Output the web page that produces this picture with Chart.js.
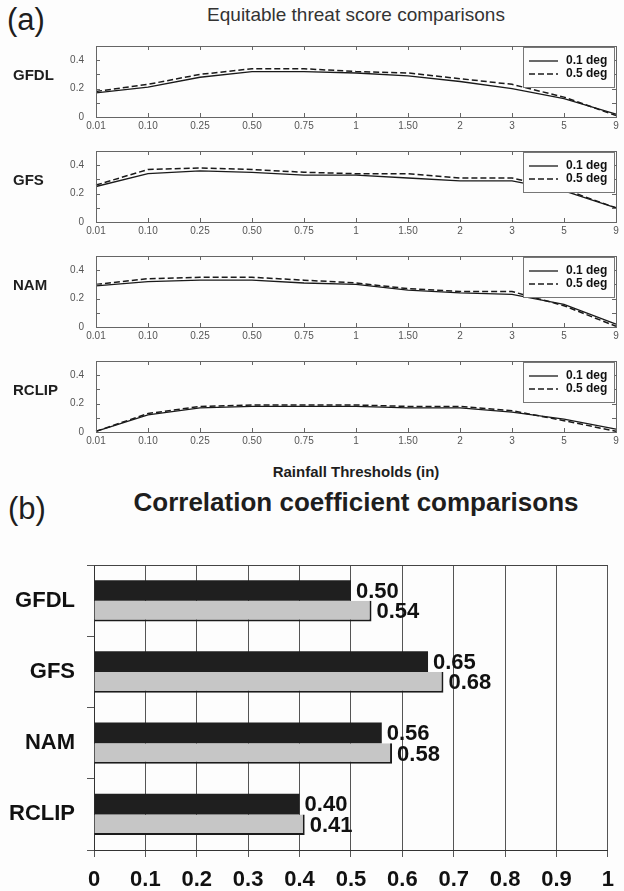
<!DOCTYPE html>
<html>
<head>
<meta charset="utf-8">
<script src="https://cdn.jsdelivr.net/npm/chart.js@4.4.0/dist/chart.umd.min.js"></script>
<style>
  body { margin: 0; background: #fdfdfd; font-family: "Liberation Sans", Arial, sans-serif; }
  #page { position: relative; width: 624px; height: 891px; overflow: hidden; }
  .txt { position: absolute; white-space: nowrap; color: #1e1e1e; line-height: 1; }
  .center { transform: translateX(-50%); }
  .rowlab { font-weight: bold; font-size: 15px; transform: translateY(-50%); }
  canvas { position: absolute; left: 0; }
</style>
</head>
<body>
<div id="page">
  <div class="txt" style="left:7px; top:4px; font-size:31px;">(a)</div>
  <div class="txt center" style="left:356px; top:5px; font-size:19px; color:#333;">Equitable threat score comparisons</div>
  <div class="txt center" style="left:356px; top:464px; font-size:15px; font-weight:bold;">Rainfall Thresholds (in)</div>
  <div class="txt" style="left:8px; top:493px; font-size:31px;">(b)</div>
  <div class="txt center" style="left:356px; top:489px; font-size:26px; font-weight:bold;">Correlation coefficient comparisons</div>
</div>
<script>
// rainfall thresholds (in) on the x axis of panel (a)
const thresholds = ['0.01', '0.10', '0.25', '0.50', '0.75', '1', '1.50', '2', '3', '5', '9'];
const models = ['GFDL', 'GFS', 'NAM', 'RCLIP'];
const seriesNames = ['0.1 deg', '0.5 deg'];

// equitable threat scores, 0.1 deg (solid) and 0.5 deg (dashed)
const gfdlFine   = [0.17, 0.21, 0.28, 0.32, 0.32, 0.31, 0.29, 0.25, 0.20, 0.13, 0.02];
const gfdlCoarse = [0.18, 0.23, 0.30, 0.34, 0.34, 0.32, 0.31, 0.27, 0.23, 0.14, 0.01];
const gfsFine    = [0.25, 0.34, 0.36, 0.35, 0.33, 0.33, 0.31, 0.29, 0.29, 0.22, 0.10];
const gfsCoarse  = [0.26, 0.37, 0.38, 0.37, 0.35, 0.34, 0.34, 0.31, 0.31, 0.23, 0.10];
const namFine    = [0.29, 0.32, 0.33, 0.33, 0.31, 0.30, 0.26, 0.24, 0.23, 0.16, 0.02];
const namCoarse  = [0.30, 0.34, 0.35, 0.35, 0.33, 0.31, 0.27, 0.25, 0.25, 0.15, 0.005];
const rclipFine  = [0.005, 0.12, 0.17, 0.18, 0.18, 0.18, 0.17, 0.17, 0.14, 0.09, 0.02];
const rclipCoarse= [0.005, 0.13, 0.18, 0.19, 0.19, 0.19, 0.18, 0.18, 0.15, 0.08, 0.005];

const etsLabelled = [0, 0.2, 0.4];

// correlation coefficients, panel (b)
const corrFine   = [0.50, 0.65, 0.56, 0.40];
const corrCoarse = [0.54, 0.68, 0.58, 0.41];

const fineSets = [gfdlFine, gfsFine, namFine, rclipFine];
const coarseSets = [gfdlCoarse, gfsCoarse, namCoarse, rclipCoarse];
const plotTops = [36, 141, 246, 351];

Chart.defaults.font.family = '"Liberation Sans", Arial, sans-serif';
Chart.defaults.animation = false;

const page = document.getElementById('page');

// box round the plot with small inward ticks (matlab look)
const frameTicks = {
  id: 'frameTicks',
  afterDatasetsDraw(chart) {
    const ctx = chart.ctx, a = chart.chartArea;
    const sx = chart.scales.x, sy = chart.scales.y;
    ctx.save();
    ctx.strokeStyle = '#666';
    ctx.lineWidth = 1;
    ctx.strokeRect(Math.round(a.left) + 0.5, Math.round(a.top) + 0.5,
                   Math.round(a.right - a.left), Math.round(a.bottom - a.top));
    ctx.beginPath();
    thresholds.forEach((t, i) => {
      const x = Math.round(sx.getPixelForValue(i)) + 0.5;
      ctx.moveTo(x, a.bottom); ctx.lineTo(x, a.bottom - 4);
      ctx.moveTo(x, a.top); ctx.lineTo(x, a.top + 4);
    });
    for (let k = 0; k <= 5; k++) {
      const y = Math.round(sy.getPixelForValue(k / 10)) + 0.5;
      ctx.moveTo(a.left, y); ctx.lineTo(a.left + 4, y);
      ctx.moveTo(a.right, y); ctx.lineTo(a.right - 4, y);
    }
    ctx.stroke();
    ctx.restore();
  }
};

const legendBox = {
  id: 'legendBox',
  afterDraw(chart) {
    const ctx = chart.ctx, a = chart.chartArea;
    const w = 91, h = 40;
    const x = Math.round(a.right) - w - 2, y = Math.round(a.top) + 1;
    ctx.save();
    ctx.fillStyle = '#fdfdfd';
    ctx.fillRect(x, y, w, h);
    ctx.strokeStyle = '#777';
    ctx.lineWidth = 1;
    ctx.strokeRect(x + 0.5, y + 0.5, w, h);
    chart.data.datasets.forEach((ds, i) => {
      const ly = y + 14 + i * 13;
      ctx.beginPath();
      ctx.setLineDash(ds.borderDash || []);
      ctx.strokeStyle = ds.borderColor;
      ctx.lineWidth = ds.borderWidth;
      ctx.moveTo(x + 6, ly); ctx.lineTo(x + 35, ly);
      ctx.stroke();
      ctx.setLineDash([]);
      ctx.fillStyle = '#111';
      ctx.font = 'bold 12px "Liberation Sans", Arial, sans-serif';
      ctx.textBaseline = 'middle';
      ctx.fillText(ds.label, x + 43, ly);
    });
    ctx.restore();
  }
};

models.forEach((m, i) => {
  const padTop = 8, plotH = 81, axisH = 20;
  const cv = document.createElement('canvas');
  cv.width = 624;
  cv.height = padTop + plotH + axisH;
  cv.style.top = (plotTops[i] - padTop) + 'px';
  page.appendChild(cv);

  const lab = document.createElement('div');
  lab.className = 'txt rowlab';
  lab.style.left = '13px';
  lab.style.top = (plotTops[i] + 38) + 'px';
  lab.textContent = m;
  page.appendChild(lab);

  new Chart(cv, {
    type: 'line',
    data: {
      labels: thresholds,
      datasets: [
        { label: seriesNames[0], data: fineSets[i], borderColor: '#1a1a1a', borderWidth: 1.3,
          pointRadius: 0, tension: 0, fill: false },
        { label: seriesNames[1], data: coarseSets[i], borderColor: '#1a1a1a', borderWidth: 1.5,
          borderDash: [6, 3], pointRadius: 0, tension: 0, fill: false }
      ]
    },
    options: {
      responsive: false,
      layout: { padding: { top: padTop, right: 8, left: 0, bottom: 0 } },
      plugins: { legend: { display: false }, tooltip: { enabled: false } },
      scales: {
        x: {
          grid: { display: false, drawTicks: false },
          border: { display: false },
          ticks: { color: '#555', font: { size: 10 }, padding: 3, maxRotation: 0, autoSkip: false },
          afterFit: s => { s.height = axisH; }
        },
        y: {
          min: 0, max: 0.5,
          grid: { display: false, drawTicks: false },
          border: { display: false },
          ticks: {
            stepSize: 0.1, color: '#555', font: { size: 10 }, padding: 12,
            callback: v => etsLabelled.some(t => Math.abs(t - v) < 1e-6) ? String(Math.round(v * 10) / 10) : ''
          },
          afterFit: s => { s.width = 96; }
        }
      }
    },
    plugins: [frameTicks, legendBox]
  });
});

// panel (b)
const topLine = {
  id: 'topLine',
  beforeDatasetsDraw(chart) {
    const ctx = chart.ctx, a = chart.chartArea;
    ctx.save();
    ctx.strokeStyle = '#444';
    ctx.lineWidth = 1;
    ctx.beginPath();
    ctx.moveTo(a.left, Math.round(a.top) + 0.5);
    ctx.lineTo(a.right, Math.round(a.top) + 0.5);
    ctx.stroke();
    ctx.restore();
  }
};

const valueLabels = {
  id: 'valueLabels',
  afterDatasetsDraw(chart) {
    const ctx = chart.ctx;
    ctx.save();
    ctx.fillStyle = '#111';
    ctx.font = 'bold 22px "Liberation Sans", Arial, sans-serif';
    ctx.textBaseline = 'middle';
    ctx.textAlign = 'left';
    chart.data.datasets.forEach((ds, di) => {
      chart.getDatasetMeta(di).data.forEach((bar, j) => {
        ctx.fillText(ds.data[j].toFixed(2), bar.x + 5, bar.y + 1);
      });
    });
    ctx.restore();
  }
};

const barCanvas = document.createElement('canvas');
barCanvas.width = 624;
barCanvas.height = 351;
barCanvas.style.top = '540px';
page.appendChild(barCanvas);

new Chart(barCanvas, {
  type: 'bar',
  data: {
    labels: models,
    datasets: [
      { label: seriesNames[0], data: corrFine, backgroundColor: '#1f1f1f', borderWidth: 0 },
      { label: seriesNames[1], data: corrCoarse, backgroundColor: '#c6c6c6', borderColor: '#1a1a1a',
        borderWidth: { top: 0, left: 0, right: 2, bottom: 2 }, borderSkipped: false }
    ]
  },
  options: {
    indexAxis: 'y',
    responsive: false,
    categoryPercentage: 0.58,
    barPercentage: 1,
    layout: { padding: { top: 5, right: 7, left: 0, bottom: 0 } },
    plugins: { legend: { display: false }, tooltip: { enabled: false } },
    scales: {
      x: {
        min: 0, max: 1,
        grid: { color: '#555', lineWidth: 1, tickLength: 7 },
        border: { color: '#333' },
        ticks: { stepSize: 0.1, color: '#111', font: { size: 22, weight: 'bold' }, padding: 10,
                 callback: v => String(Math.round(v * 10) / 10) },
        afterFit: s => { s.height = 41; }
      },
      y: {
        grid: { drawOnChartArea: false, tickLength: 7, color: '#555', offset: true },
        border: { color: '#333' },
        ticks: { color: '#111', font: { size: 22, weight: 'bold' }, padding: 12 },
        afterFit: s => { s.width = 94; }
      }
    }
  },
  plugins: [topLine, valueLabels]
});
</script>
</body>
</html>
